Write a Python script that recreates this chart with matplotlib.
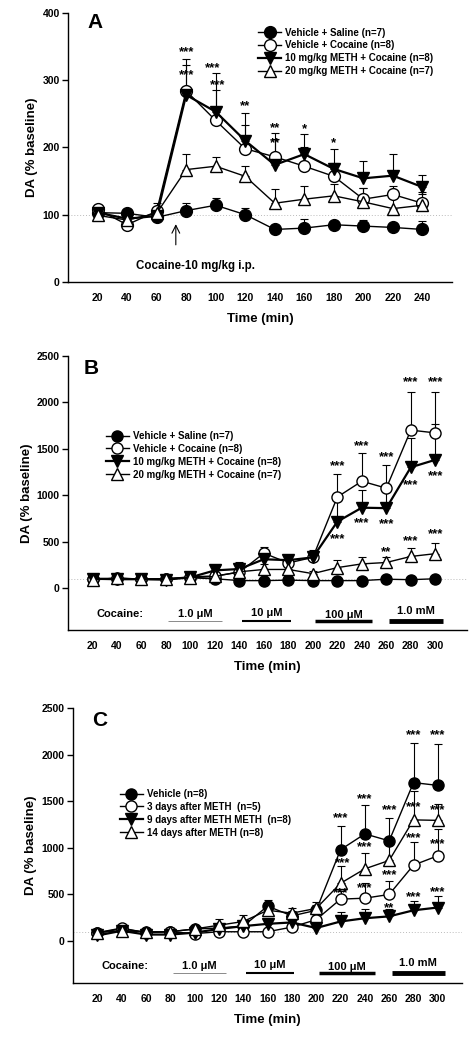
import numpy as np
import matplotlib
matplotlib.use("Agg")
import matplotlib.pyplot as plt

plt.rcParams['font.family'] = ['Liberation Sans', 'DejaVu Sans']
plt.rcParams['font.weight'] = 'bold'

# ---------------- Panel A data ----------------
time_a = [20, 40, 60, 80, 100, 120, 140, 160, 180, 200, 220, 240]
sal_a = [103, 102, 96, 106, 114, 100, 78, 80, 85, 83, 81, 78]
sal_a_err = [5, 5, 5, 11, 11, 10, 6, 14, 6, 9, 7, 13]
coc_a = [108, 85, 105, 284, 240, 198, 186, 172, 157, 123, 130, 117]
coc_a_err = [6, 6, 12, 39, 45, 36, 35, 28, 20, 17, 13, 16]
m10_a = [103, 94, 98, 278, 253, 210, 174, 190, 168, 154, 158, 141]
m10_a_err = [5, 5, 8, 54, 58, 41, 38, 30, 30, 26, 32, 18]
m20_a = [99, 92, 102, 167, 172, 157, 117, 123, 128, 119, 109, 114]
m20_a_err = [5, 5, 6, 23, 14, 16, 21, 19, 18, 21, 16, 16]
labels_a = ['Vehicle + Saline (n=7)', 'Vehicle + Cocaine (n=8)',
            '10 mg/kg METH + Cocaine (n=8)', '20 mg/kg METH + Cocaine (n=7)']
stars_a = [(80, 342, '***'), (80, 308, '***'), (98, 318, '***'), (101, 292, '***'),
           (120, 261, '**'), (140, 229, '**'), (140, 206, '**'),
           (160, 227, '*'), (180, 206, '*')]

# ---------------- Panel B data ----------------
time_bc = [20, 40, 60, 80, 100, 120, 140, 160, 180, 200, 220, 240, 260, 280, 300]
sal_b = [100, 100, 95, 100, 110, 100, 80, 80, 85, 80, 80, 80, 95, 90, 100]
sal_b_err = [15, 15, 10, 10, 10, 12, 10, 10, 10, 10, 10, 10, 12, 10, 12]
coc_b = [100, 105, 95, 100, 120, 130, 170, 375, 270, 330, 980, 1150, 1075, 1700, 1670]
coc_b_err = [15, 15, 10, 10, 20, 30, 40, 65, 50, 60, 250, 305, 250, 415, 435]
m10_b = [100, 95, 95, 90, 115, 190, 205, 310, 300, 330, 715, 865, 860, 1300, 1380]
m10_b_err = [15, 15, 15, 15, 20, 55, 80, 30, 50, 80, 270, 190, 220, 310, 390]
m20_b = [85, 110, 95, 100, 110, 125, 175, 200, 200, 155, 220, 260, 275, 340, 370]
m20_b_err = [10, 10, 10, 10, 15, 20, 30, 60, 60, 30, 85, 75, 60, 95, 120]
stars_b = [(220, 1315, '***'), (240, 1530, '***'), (260, 1408, '***'),
           (280, 2215, '***'), (300, 2215, '***'),
           (220, 527, '***'), (240, 696, '***'), (260, 685, '***'),
           (280, 1110, '***'), (300, 1207, '***'),
           (260, 390, '**'), (280, 509, '***'), (300, 581, '***')]

# ---------------- Panel C data ----------------
veh_c = [90, 130, 95, 100, 130, 140, 160, 375, 270, 330, 980, 1150, 1075, 1700, 1670]
veh_c_err = [10, 15, 10, 10, 15, 25, 40, 65, 50, 60, 255, 305, 250, 420, 440]
d3_c = [90, 140, 90, 100, 80, 100, 100, 100, 150, 230, 450, 460, 500, 815, 915]
d3_c_err = [10, 15, 10, 10, 10, 10, 10, 10, 20, 40, 90, 160, 145, 245, 285]
d9_c = [60, 110, 70, 70, 90, 130, 160, 185, 200, 140, 210, 245, 265, 330, 360]
d9_c_err = [10, 10, 10, 10, 10, 15, 25, 30, 30, 20, 100, 95, 75, 105, 125]
d14_c = [90, 110, 100, 100, 130, 170, 210, 330, 300, 350, 620, 775, 865, 1300, 1295]
d14_c_err = [10, 10, 10, 10, 20, 70, 70, 60, 60, 70, 190, 175, 200, 310, 180]
labels_c = ['Vehicle (n=8)', '3 days after METH  (n=5)',
            '9 days after METH METH  (n=8)', '14 days after METH (n=8)']
stars_c = [(220, 1318, '***'), (240, 1526, '***'), (260, 1408, '***'),
           (280, 2205, '***'), (300, 2205, '***'),
           (280, 1433, '***'), (300, 1408, '***'),
           (222, 834, '***'), (240, 1006, '***'), (260, 709, '***'),
           (280, 1103, '***'), (300, 1042, '***'),
           (220, 511, '***'), (240, 565, '***'),
           (260, 357, '**'), (280, 475, '***'), (300, 529, '***')]

# cocaine concentration bars (start, end, label)
conc_bars = [(82, 126, '1.0 \u03bcM'), (142, 182, '10 \u03bcM'),
             (202, 248, '100 \u03bcM'), (262, 306, '1.0 mM')]

styles = [dict(marker='o', mfc='black', mec='black', lw=1.0),
          dict(marker='o', mfc='white', mec='black', lw=1.0),
          dict(marker='v', mfc='black', mec='black', lw=1.6),
          dict(marker='^', mfc='white', mec='black', lw=1.0)]


def draw_series(ax, x, series, errs, labels, ms=8.5):
    handles = []
    for y, e, lab, st in zip(series, errs, labels, styles):
        y = np.array(y, dtype=float)
        e = np.array(e, dtype=float)
        ax.errorbar(x, y, yerr=[np.zeros_like(e), e], fmt='none', ecolor='black',
                    elinewidth=0.8, capsize=3, capthick=0.8, zorder=2)
        h, = ax.plot(x, y, color='black', lw=st['lw'], marker=st['marker'],
                     ms=ms, mfc=st['mfc'], mec=st['mec'], mew=1.0, zorder=3,
                     label=lab)
        handles.append(h)
    return handles


def style_axes(ax, xlim, ylim, yticks, xticks):
    ax.set_xlim(*xlim)
    ax.set_ylim(*ylim)
    ax.set_yticks(yticks)
    ax.set_xticks(xticks)
    ax.spines['top'].set_visible(False)
    ax.spines['right'].set_visible(False)
    ax.spines['left'].set_linewidth(1.0)
    ax.spines['bottom'].set_linewidth(1.0)
    ax.tick_params(axis='y', direction='out', length=4, width=1, labelsize=7.5, pad=2)
    ax.tick_params(axis='x', length=0, labelsize=7.5, pad=8)
    for lbl in ax.get_xticklabels() + ax.get_yticklabels():
        lbl.set_fontweight('bold')
    ax.set_ylabel('DA (% baseline)', fontsize=9.5, fontweight='bold', labelpad=3)
    ax.set_xlabel('Time (min)', fontsize=9.5, fontweight='bold', labelpad=7)
    ax.axhline(100, color='#bbbbbb', lw=0.7, ls=(0, (1, 2)), zorder=1)


def draw_stars(ax, stars):
    for x, y, s in stars:
        ax.text(x, y, s, ha='center', va='center', fontsize=9.5, fontweight='bold')


def draw_conc(ax, y_line, y_text):
    ax.text(62, y_text[0], 'Cocaine:', ha='right', va='center', fontsize=8, fontweight='bold')
    widths = [0.6, 1.5, 2.5, 3.5]
    colors = ['#777777', 'black', 'black', 'black']
    for (x0, x1, lab), w, c, yt in zip(conc_bars, widths, colors, y_text[1:]):
        ax.plot([x0, x1], [y_line, y_line], color=c, lw=w, solid_capstyle='butt',
                clip_on=False)
        ax.text((x0 + x1) / 2, yt, lab, ha='center', va='center', fontsize=8,
                fontweight='bold')


leg_prop = dict(weight='bold', size=7)

fig = plt.figure(figsize=(4.74, 10.48), dpi=100)

# ---------------- Panel A ----------------
ax1 = fig.add_axes([0.1435, 0.731, 0.81, 0.2567])
h = draw_series(ax1, time_a, [sal_a, coc_a, m10_a, m20_a],
                [sal_a_err, coc_a_err, m10_a_err, m20_a_err], labels_a)
style_axes(ax1, (0, 260), (0, 400), [0, 100, 200, 300, 400], time_a)
draw_stars(ax1, stars_a)
ax1.annotate('', xy=(73, 90), xytext=(73, 51),
             arrowprops=dict(arrowstyle='->', color='black', lw=0.8,
                             mutation_scale=14))
ax1.text(86, 24, 'Cocaine-10 mg/kg i.p.', ha='center', va='center', fontsize=8.3,
         fontweight='bold')
ax1.text(0.05, 0.965, 'A', transform=ax1.transAxes, fontsize=15, fontweight='bold',
         ha='left', va='center')
ax1.legend(handles=h, loc='upper left', bbox_to_anchor=(0.485, 0.96), frameon=False,
           prop=leg_prop, handlelength=2.4, handletextpad=0.4, labelspacing=0.3,
           borderaxespad=0)

# ---------------- Panel B ----------------
ax2 = fig.add_axes([0.1435, 0.399, 0.842, 0.2615])
h = draw_series(ax2, time_bc, [sal_b, coc_b, m10_b, m20_b],
                [sal_b_err, coc_b_err, m10_b_err, m20_b_err], labels_a, ms=8)
style_axes(ax2, (0, 326), (-450, 2500), [0, 500, 1000, 1500, 2000, 2500], time_bc)
draw_stars(ax2, stars_b)
draw_conc(ax2, -355, [-280, -280, -265, -290, -250])
ax2.text(0.04, 0.955, 'B', transform=ax2.transAxes, fontsize=15, fontweight='bold',
         ha='left', va='center')
ax2.legend(handles=h, loc='upper left', bbox_to_anchor=(0.085, 0.74), frameon=False,
           prop=leg_prop, handlelength=2.4, handletextpad=0.4, labelspacing=0.3,
           borderaxespad=0)

# ---------------- Panel C ----------------
ax3 = fig.add_axes([0.154, 0.062, 0.821, 0.2624])
h = draw_series(ax3, time_bc, [veh_c, d3_c, d9_c, d14_c],
                [veh_c_err, d3_c_err, d9_c_err, d14_c_err], labels_c, ms=8)
style_axes(ax3, (0, 320), (-450, 2500), [0, 500, 1000, 1500, 2000, 2500], time_bc)
draw_stars(ax3, stars_c)
draw_conc(ax3, -343, [-268, -268, -258, -280, -240])
ax3.text(0.05, 0.955, 'C', transform=ax3.transAxes, fontsize=15, fontweight='bold',
         ha='left', va='center')
ax3.legend(handles=h, loc='upper left', bbox_to_anchor=(0.11, 0.72), frameon=False,
           prop=leg_prop, handlelength=2.4, handletextpad=0.4, labelspacing=0.3,
           borderaxespad=0)

fig.savefig('out.png', dpi=100)
